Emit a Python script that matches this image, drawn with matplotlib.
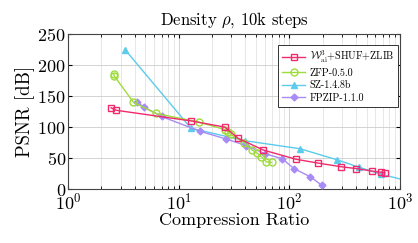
import matplotlib
matplotlib.use("Agg")
import matplotlib.pyplot as plt
from matplotlib.ticker import LogLocator, MultipleLocator, NullFormatter

plt.rcParams['font.family'] = ['cmr10', 'DejaVu Serif']
plt.rcParams['mathtext.fontset'] = 'cm'
plt.rcParams['axes.formatter.use_mathtext'] = True

# Data
w_x = [2.45, 2.73, 12.8, 26, 34.4, 58, 115, 180, 293, 403, 558, 673, 731]
w_y = [131, 127, 110, 100, 82, 63, 48, 42, 36, 33, 29, 27, 26]

zfp_x = [2.6, 2.6, 3.9, 6.2, 15.2, 26, 28, 29.5, 39, 46, 51, 56, 62, 69]
zfp_y = [186, 183, 140, 122, 108, 96, 92, 88, 75, 63, 58, 52, 44, 43]

sz_x = [3.27, 12.9, 39.6, 125, 272, 429, 673, 1250]
sz_y = [225, 98, 78, 65, 47, 35, 24, 12]

fp_x = [4.2, 4.9, 7.0, 15.7, 26.5, 41, 60, 86, 110, 154, 197]
fp_y = [140, 132, 117, 93, 81, 70, 57, 49, 33, 20, 6]

labels = [r'$\mathcal{W}^{3}_{\mathrm{ai}}$+SHUF+ZLIB', 'ZFP-0.5.0', 'SZ-1.4.8b', 'FPZIP-1.1.0']
colors = ['#f02a6c', '#9edc3c', '#5ccbec', '#a98bf6']

fig = plt.figure(figsize=(4.18, 2.43), dpi=100)
ax = fig.add_axes([0.1627, 0.222, 0.7943, 0.638])

ax.plot(w_x, w_y, color=colors[0], marker='s', ms=5, mfc='none', mew=1.0, lw=1.0, label=labels[0], zorder=5)
ax.plot(zfp_x, zfp_y, color=colors[1], marker='o', ms=5, mfc='none', mew=1.0, lw=1.0, label=labels[1], zorder=4)
ax.plot(sz_x, sz_y, color=colors[2], marker='^', ms=4.5, lw=1.0, label=labels[2], zorder=3)
ax.plot(fp_x, fp_y, color=colors[3], marker='D', ms=3.5, lw=1.0, label=labels[3], zorder=3)

ax.set_xscale('log')
ax.set_xlim(1, 1000)
ax.set_ylim(0, 250)
ax.yaxis.set_major_locator(MultipleLocator(50))
ax.xaxis.set_major_locator(LogLocator(base=10, numticks=10))
ax.xaxis.set_minor_locator(LogLocator(base=10, subs=range(2, 10), numticks=100))
ax.xaxis.set_minor_formatter(NullFormatter())

ax.grid(True, which='major', color='#cccccc', lw=0.6)
ax.grid(True, which='minor', axis='x', color='#dddddd', lw=0.5)
ax.set_axisbelow(True)
ax.tick_params(which='both', direction='in', top=True, right=True, labelsize=13)
ax.tick_params(axis='y', pad=1.5)
ax.tick_params(axis='x', pad=2)
ax.tick_params(which='major', length=3)
ax.tick_params(which='minor', length=2)
for s in ax.spines.values():
    s.set_color('#444444')
    s.set_linewidth(0.8)

ax.set_title(r'Density $\rho$, 10k steps', fontsize=12, pad=7)
ax.set_xlabel('Compression Ratio', fontsize=13, labelpad=0)
ax.set_ylabel('PSNR [dB]', fontsize=13.5, labelpad=2)

leg = ax.legend(loc='upper right', fontsize=7.3, frameon=True, fancybox=False,
                edgecolor='#333333', framealpha=1, borderpad=0.4, labelspacing=0.3,
                handlelength=2.2, handletextpad=0.5, bbox_to_anchor=(1.01, 0.965))
leg.get_frame().set_linewidth(0.7)

fig.savefig('out.png', dpi=100)
